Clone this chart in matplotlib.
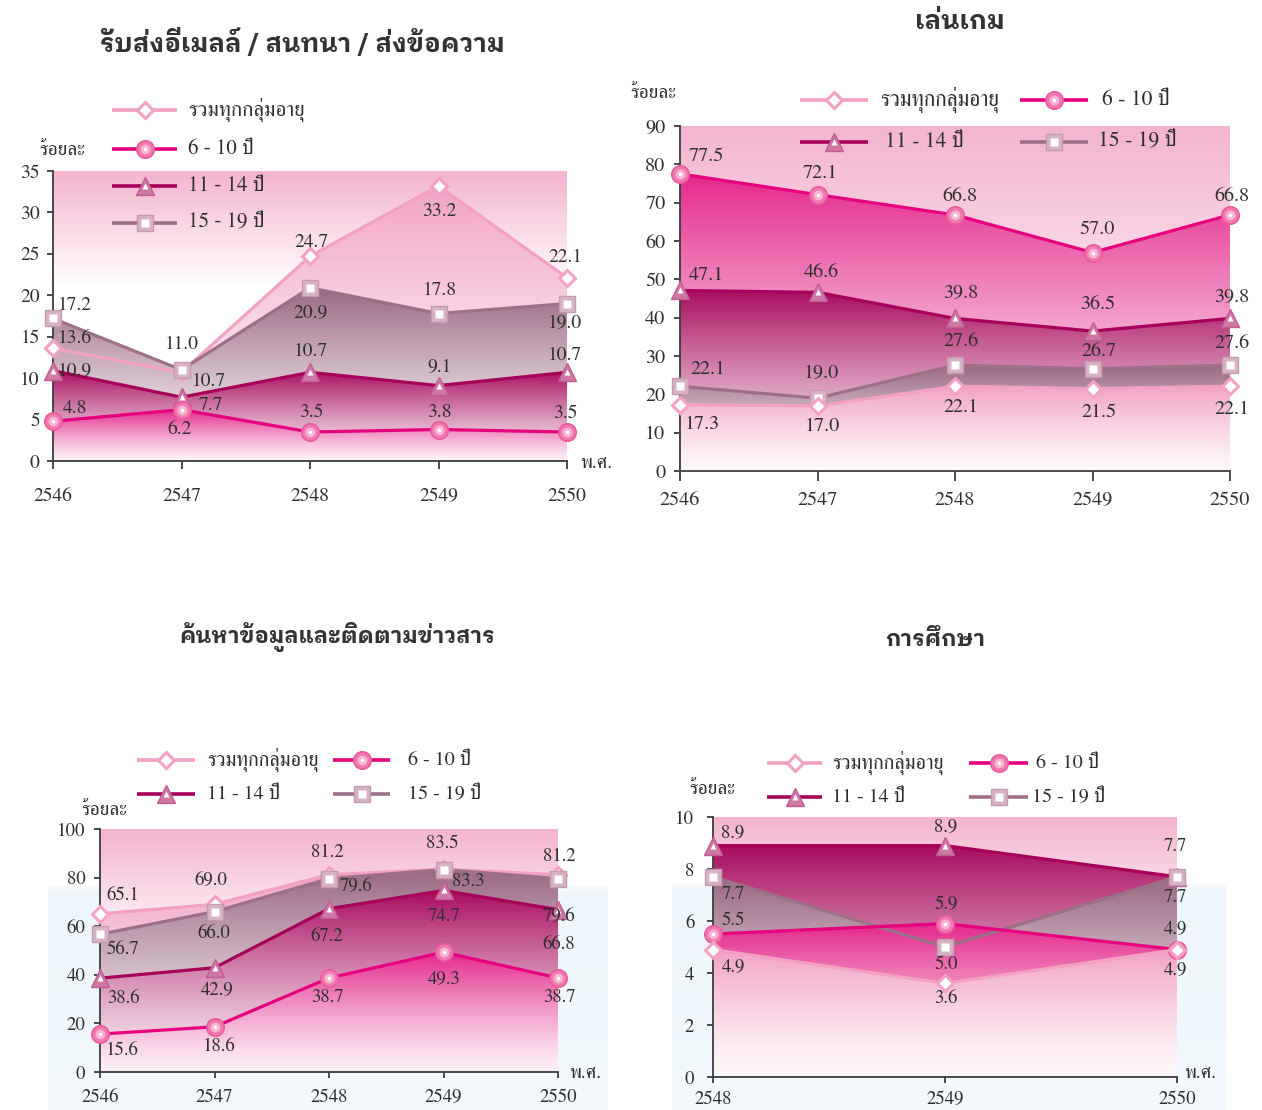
import numpy as np
import matplotlib
matplotlib.use("Agg")
import matplotlib.pyplot as plt
from matplotlib.colors import to_rgba

plt.rcParams['font.family'] = ['FreeSerif', 'DejaVu Sans']
TITLE_FONT = ['IBM Plex Sans Thai Looped', 'FreeSerif', 'DejaVu Sans']

# ---------------- data ----------------
SERIES_NAMES = ["รวมทุกกลุ่มอายุ", "6 - 10 ปี", "11 - 14 ปี", "15 - 19 ปี"]

email_years = [2546, 2547, 2548, 2549, 2550]
email_all = [13.6, 10.7, 24.7, 33.2, 22.1]
email_6_10 = [4.8, 6.2, 3.5, 3.8, 3.5]
email_11_14 = [10.9, 7.7, 10.7, 9.1, 10.7]
email_15_19 = [17.2, 11.0, 20.9, 17.8, 19.0]

game_years = [2546, 2547, 2548, 2549, 2550]
game_all = [17.3, 17.0, 22.1, 21.5, 22.1]
game_6_10 = [77.5, 72.1, 66.8, 57.0, 66.8]
game_11_14 = [47.1, 46.6, 39.8, 36.5, 39.8]
game_15_19 = [22.1, 19.0, 27.6, 26.7, 27.6]

news_years = [2546, 2547, 2548, 2549, 2550]
news_all = [65.1, 69.0, 81.2, 83.5, 81.2]
news_6_10 = [15.6, 18.6, 38.7, 49.3, 38.7]
news_11_14 = [38.6, 42.9, 67.2, 74.7, 66.8]
news_15_19 = [56.7, 66.0, 79.6, 83.3, 79.6]

edu_years = [2548, 2549, 2550]
edu_all = [4.9, 3.6, 4.9]
edu_6_10 = [5.5, 5.9, 4.9]
edu_11_14 = [8.9, 8.9, 7.7]
edu_15_19 = [7.7, 5.0, 7.7]

# ---------------- styles ----------------
LINE_COLORS = ['#f4a0c2', '#e6007e', '#a6005b', '#9d7088']
FILL_TOP = ['#f2a2c4', '#e4288a', '#a80c5e', '#9a6882']
TEXT_COLOR = '#2e2e2e'
AXIS_COLOR = '#3c3c3c'

W, H = 1262, 1110
fig = plt.figure(figsize=(W / 100, H / 100), dpi=100)
fig.patch.set_facecolor('white')


def mix(c, other, t):
    a = np.array(to_rgba(c))
    b = np.array(to_rgba(other))
    return a + (b - a) * t


def vgrad(c_top, c_bot, start=0.0, power=1.0, n=256):
    """Vertical gradient image (row 0 at the bottom)."""
    t = np.linspace(0, 1, n)
    t = np.clip((t - start) / (1 - start), 0, 1) ** power
    top = np.array(to_rgba(c_top))
    bot = np.array(to_rgba(c_bot))
    rows = bot + (top - bot) * t[:, None]
    return rows[:, None, :]


def add_px_axes(x0, x1, ytop, ybot, **kw):
    return fig.add_axes([x0 / W, 1 - ybot / H, (x1 - x0) / W, (ybot - ytop) / H], **kw)


def draw_marker(ax, xs, ys, idx, z, scale=1.0):
    kw = dict(ls='none', zorder=z, clip_on=False)
    if idx == 0:
        ax.plot(xs, ys, marker='D', ms=8.5 * scale, mfc='white', mec='#f3a2c4', mew=2.2, **kw)
    elif idx == 1:
        ax.plot(xs, ys, marker='o', ms=12.5 * scale, mfc='#f07ab0', mec='#ea5a9c', mew=1.2, **kw)
        ax.plot(xs, ys, marker='o', ms=7 * scale, mfc='#f8b4d4', mec='none', **kw)
        ax.plot(xs, ys, marker='o', ms=2.6 * scale, mfc='white', mec='none', **kw)
    elif idx == 2:
        ax.plot(xs, ys, marker='^', ms=13 * scale, mfc='#cf78a5', mec='#c25d94', mew=1.0, **kw)
        ax.plot(xs, ys, marker='^', ms=4.5 * scale, mfc='white', mec='none', **kw)
    else:
        ax.plot(xs, ys, marker='s', ms=11.5 * scale, mfc='#d7b2c5', mec='#c49ab0', mew=1.0, **kw)
        ax.plot(xs, ys, marker='s', ms=6 * scale, mfc='white', mec='none', **kw)


def draw_chart(ax, years, series, ymax, ystep, offsets, fs, bg_start, xpad, ypad, xtick_len):
    ax.set_zorder(2)
    ax.patch.set_visible(False)
    x0, x1 = years[0], years[-1]

    # plot-area background: pink at the top fading downwards
    ax.imshow(vgrad('#f4b4cf', '#ffffff', start=bg_start), extent=[x0, x1, 0, ymax],
              aspect='auto', origin='lower', interpolation='bilinear', zorder=0.5)

    # shaded areas, highest series at the back
    order = sorted(range(4), key=lambda i: -np.mean(series[i]))
    for k, i in enumerate(order):
        vals = series[i]
        top = FILL_TOP[i]
        bot = mix(top, '#ffffff', 0.93)
        poly = ax.fill_between(years, 0, vals, facecolor='none', edgecolor='none', zorder=1 + k * 0.1)
        im = ax.imshow(vgrad(top, bot, power=1.3), extent=[x0, x1, 0, max(vals)],
                       aspect='auto', origin='lower', interpolation='bilinear', zorder=1 + k * 0.1)
        im.set_clip_path(poly.get_paths()[0], transform=ax.transData)

    for k, i in enumerate(order):
        ax.plot(years, series[i], color=LINE_COLORS[i], lw=2.3, zorder=3 + k * 0.1,
                clip_on=False, solid_joinstyle='round')
    for k, i in enumerate(order):
        draw_marker(ax, years, series[i], i, 5 + k * 0.1)

    for i in range(4):
        for x, v, (dx, dy) in zip(years, series[i], offsets[i]):
            ax.annotate(f"{v:.1f}", (x, v), xytext=(dx, dy), textcoords='offset pixels',
                        ha='center', va='center', fontsize=fs, color=TEXT_COLOR,
                        zorder=7, annotation_clip=False)

    ax.set_xlim(x0, x1)
    ax.set_ylim(0, ymax)
    ax.set_xticks(years)
    ax.set_xticklabels([str(y) for y in years])
    ax.set_yticks(np.arange(0, ymax + 0.01, ystep))
    ax.set_yticklabels([str(int(v)) for v in np.arange(0, ymax + 0.01, ystep)])
    for s in ['top', 'right']:
        ax.spines[s].set_visible(False)
    for s in ['left', 'bottom']:
        ax.spines[s].set_color(AXIS_COLOR)
        ax.spines[s].set_linewidth(1.3)
        ax.spines[s].set_zorder(4)
    ax.tick_params(axis='x', direction='out', length=xtick_len, width=1.3, color=AXIS_COLOR,
                   pad=xpad, labelsize=fs, labelcolor=TEXT_COLOR)
    ax.tick_params(axis='y', direction='out', length=4.5, width=1.3, color=AXIS_COLOR,
                   pad=ypad, labelsize=fs, labelcolor=TEXT_COLOR)


# label offsets in pixels (dx, dy), one list per series
email_offsets = [
    [(22, 10), (27, -9), (1, 14), (1, -26), (-2, 20)],
    [(22, 13), (-2, -20), (1, 20), (1, 17), (-2, 19)],
    [(22, -1), (29, -8), (1, 21), (1, 18), (-2, 17)],
    [(22, 13), (0, 25), (1, -25), (1, 23), (-2, -20)],
]
game_offsets = [
    [(22, -20), (5, -21), (6, -21), (6, -24), (2, -23)],
    [(26, 17), (3, 21), (5, 19), (5, 23), (2, 19)],
    [(26, 15), (4, 20), (6, 25), (5, 27), (2, 21)],
    [(28, 17), (4, 25), (6, 24), (6, 17), (2, 22)],
]
news_offsets = [
    [(23, 18), (-4, 24), (-2, 22), (-1, 26), (1, 18)],
    [(22, -16), (5, -20), (-2, -19), (1, -26), (1, -19)],
    [(23, -20), (3, -22), (-2, -28), (1, -26), (1, -35)],
    [(23, -15), (-1, -22), (27, -8), (25, -12), (1, -38)],
]
edu_offsets = [
    [(20, -17), (1, -15), (-2, -20)],
    [(20, 14), (1, 19), (-2, 21)],
    [(20, 13), (1, 19), (-2, 30)],
    [(20, -18), (1, -17), (-2, -21)],
]

# light blue panels behind the lower charts
for (px0, px1, pyt, pyb) in [(48, 608, 886, 1110), (672, 1226, 884, 1110)]:
    pax = add_px_axes(px0, px1, pyt, pyb)
    pax.set_zorder(0)
    pax.axis('off')
    g = vgrad('#edf6fb', '#f3f9fd', n=256)
    g[-10:, 0, 3] = np.linspace(1, 0.4, 10)
    pax.imshow(g, extent=[0, 1, 0, 1], aspect='auto', origin='lower', interpolation='bilinear')
    pax.set_xlim(0, 1)
    pax.set_ylim(0, 1)

ax1 = add_px_axes(53, 567, 171, 461)
draw_chart(ax1, email_years, [email_all, email_6_10, email_11_14, email_15_19], 35, 5,
           email_offsets, 14, 0.6, 13, 5, 6)

ax2 = add_px_axes(680, 1230, 126, 471)
draw_chart(ax2, game_years, [game_all, game_6_10, game_11_14, game_15_19], 90, 10,
           game_offsets, 14.5, 0.2, 8, 6, 7)

ax3 = add_px_axes(100, 558, 829, 1072)
draw_chart(ax3, news_years, [news_all, news_6_10, news_11_14, news_15_19], 100, 20,
           news_offsets, 13.5, 0.5, 7.5, 6, 4.5)

ax4 = add_px_axes(713, 1177, 817, 1077)
draw_chart(ax4, edu_years, [edu_all, edu_6_10, edu_11_14, edu_15_19], 10, 2,
           edu_offsets, 13.5, 0.5, 5.5, 9, 4.5)

# overlay in pixel coordinates for titles, unit labels and legends
ov = fig.add_axes([0, 0, 1, 1])
ov.set_zorder(10)
ov.patch.set_visible(False)
ov.set_xlim(0, W)
ov.set_ylim(H, 0)
ov.axis('off')

titles = [("รับส่งอีเมลล์ / สนทนา / ส่งข้อความ", 302, 42, 18.5),
          ("เล่นเกม", 960, 22, 18.5),
          ("ค้นหาข้อมูลและติดตามข่าวสาร", 337, 637, 16),
          ("การศึกษา", 935, 640, 16)]
for t, x, y, fs in titles:
    ov.text(x, y, t, ha='center', va='center', fontsize=fs, fontweight='bold',
            family=TITLE_FONT, color='#333333')

for x, y in [(62, 150), (653, 93), (104, 810), (712, 789)]:
    ov.text(x, y, "ร้อยละ", ha='center', va='center', fontsize=14, color=TEXT_COLOR)
for x, y in [(596, 463), (585, 1073), (1200, 1073)]:
    ov.text(x, y, "พ.ศ.", ha='center', va='center', fontsize=14, color=TEXT_COLOR)

legends = [
    (15, [(0, 112, 177, 110, 188), (1, 112, 177, 149, 188),
          (2, 112, 177, 186, 188), (3, 112, 177, 223, 188)]),
    (15.5, [(0, 800, 868, 100, 880), (1, 1020, 1088, 100, 1102),
            (2, 800, 868, 142, 885), (3, 1020, 1088, 142, 1098)]),
    (14.5, [(0, 137, 195, 760, 207), (1, 333, 390, 760, 408),
            (2, 137, 195, 794, 207), (3, 333, 390, 794, 408)]),
    (14.5, [(0, 767, 822, 763, 832), (1, 969, 1028, 763, 1036),
            (2, 767, 822, 797, 832), (3, 969, 1028, 797, 1032)]),
]
for fs, entries in legends:
    for idx, lx0, lx1, ly, tx in entries:
        ov.plot([lx0, lx1], [ly, ly], color=LINE_COLORS[idx], lw=2.6, solid_capstyle='butt', zorder=11)
        draw_marker(ov, [(lx0 + lx1) / 2], [ly], idx, 12)
        ov.text(tx, ly, SERIES_NAMES[idx], ha='left', va='center', fontsize=fs,
                color=TEXT_COLOR, zorder=12)

fig.savefig("out.png", dpi=100, facecolor='white')
